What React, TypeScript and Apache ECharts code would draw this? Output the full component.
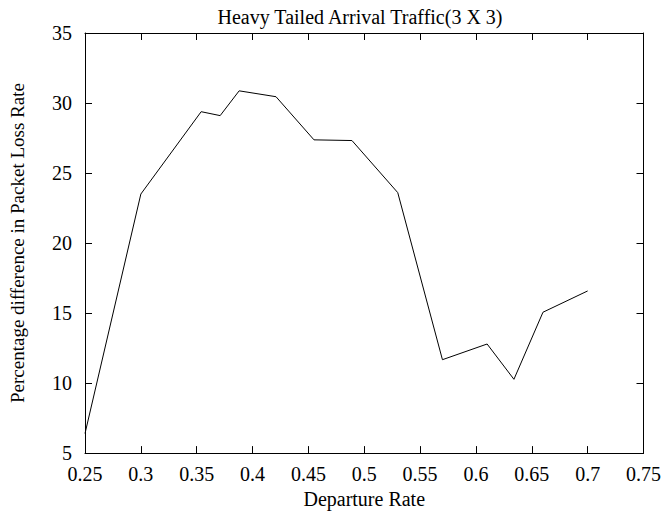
import React, { useEffect, useRef } from "react";
import * as echarts from "echarts";

const departureRate = [0.25, 0.3, 0.354, 0.371, 0.388, 0.421, 0.455, 0.489, 0.53, 0.57, 0.61, 0.634, 0.66, 0.7];
const lossDiff = [6.4, 23.5, 29.38, 29.1, 30.87, 30.45, 27.37, 27.32, 23.6, 11.67, 12.79, 10.27, 15.06, 16.58];
const xTicks = [0.25, 0.3, 0.35, 0.4, 0.45, 0.5, 0.55, 0.6, 0.65, 0.7, 0.75];
const yTicks = [5, 10, 15, 20, 25, 30, 35];

const FONT = "'Liberation Serif', 'Times New Roman', Times, 'DejaVu Serif', serif";

export default function App() {
  const ref = useRef<HTMLDivElement>(null);
  useEffect(() => {
    if (!ref.current) return;
    const chart = echarts.init(ref.current, undefined, { renderer: "svg" });
    const axisLine = { show: true, lineStyle: { color: "#000", width: 1 } };
    const tick = { show: true, inside: true, length: 7, lineStyle: { color: "#000", width: 1 } };
    const labelStyle = { color: "#000", fontFamily: FONT, fontSize: 20 };
    chart.setOption({
      animation: false,
      backgroundColor: "#fff",
      title: {
        text: "Heavy Tailed Arrival Traffic(3 X 3)",
        left: 355,
        textAlign: "center",
        top: 2,
        textStyle: { color: "#000", fontFamily: FONT, fontSize: 20, fontWeight: "normal" },
      },
      grid: { left: 84, right: 18, top: 33, bottom: 59 },
      xAxis: [
        {
          type: "value",
          min: 0.25,
          max: 0.75,
          interval: 0.05,
          position: "bottom",
          axisLine,
          axisTick: tick,
          splitLine: { show: false },
          axisLabel: {
            ...labelStyle,
            margin: 11,
            formatter: (v: number) => {
              const r = Math.round(v * 100) / 100;
              return xTicks.some((t) => Math.abs(t - r) < 1e-6) ? String(r) : "";
            },
          },
          name: "Departure Rate",
          nameLocation: "middle",
          nameGap: 35,
          nameTextStyle: { color: "#000", fontFamily: FONT, fontSize: 20 },
        },
        {
          type: "value",
          min: 0.25,
          max: 0.75,
          interval: 0.05,
          position: "top",
          axisLine,
          axisTick: tick,
          splitLine: { show: false },
          axisLabel: { show: false },
        },
      ],
      yAxis: [
        {
          type: "value",
          min: 5,
          max: 35,
          interval: 5,
          position: "left",
          axisLine,
          axisTick: tick,
          splitLine: { show: false },
          axisLabel: {
            ...labelStyle,
            margin: 13,
            formatter: (v: number) => (yTicks.includes(v) ? String(v) : ""),
          },
          name: "Percentage difference in Packet Loss Rate",
          nameLocation: "middle",
          nameGap: 58,
          nameTextStyle: { color: "#000", fontFamily: FONT, fontSize: 19 },
        },
        {
          type: "value",
          min: 5,
          max: 35,
          interval: 5,
          position: "right",
          axisLine,
          axisTick: tick,
          splitLine: { show: false },
          axisLabel: { show: false },
        },
      ],
      series: [
        {
          type: "line",
          xAxisIndex: 0,
          yAxisIndex: 0,
          data: departureRate.map((x, i) => [x, lossDiff[i]]),
          showSymbol: false,
          symbol: "none",
          lineStyle: { color: "#000", width: 1 },
        },
      ],
    });
    return () => chart.dispose();
  }, []);
  return <div ref={ref} style={{ width: 664, height: 514, position: "absolute", left: 0, top: 0 }} />;
}
